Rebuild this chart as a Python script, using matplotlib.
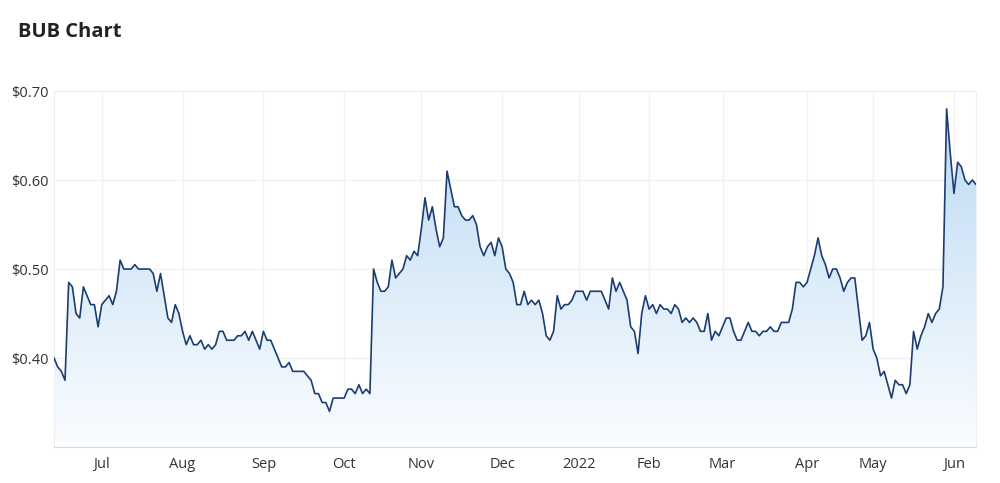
import numpy as np
import pandas as pd
import matplotlib
matplotlib.use("Agg")
import matplotlib.pyplot as plt
from matplotlib.colors import LinearSegmentedColormap
from matplotlib.ticker import FuncFormatter

plt.rcParams['font.family'] = ['Open Sans', 'DejaVu Sans']

# ASX trading days, 11 Jun 2021 - 9 Jun 2022
holidays = ['2021-06-14', '2021-12-27', '2021-12-28', '2022-01-03',
            '2022-01-26', '2022-04-15', '2022-04-18', '2022-04-25']
dates = pd.bdate_range('2021-06-11', '2022-06-09')
dates = dates[~dates.isin(pd.to_datetime(holidays))]

# closing prices (AUD), one list per month
jun21 = [0.40, 0.39, 0.385, 0.375, 0.485, 0.48, 0.45, 0.445, 0.48, 0.47, 0.46, 0.46, 0.435]
jul21 = [0.46, 0.465, 0.47, 0.46, 0.475, 0.51, 0.50, 0.50, 0.50, 0.505, 0.50, 0.50, 0.50, 0.50,
         0.495, 0.475, 0.495, 0.47, 0.445, 0.44, 0.46, 0.45]
aug21 = [0.43, 0.415, 0.425, 0.415, 0.415, 0.42, 0.41, 0.415, 0.41, 0.415, 0.43, 0.43,
         0.42, 0.42, 0.42, 0.425, 0.425, 0.43, 0.42, 0.43, 0.42, 0.41]
sep21 = [0.43, 0.42, 0.42, 0.41, 0.40, 0.39, 0.39, 0.395, 0.385, 0.385, 0.385, 0.385,
         0.38, 0.375, 0.36, 0.36, 0.35, 0.35, 0.34, 0.355, 0.355, 0.355]
oct21 = [0.355, 0.365, 0.365, 0.36, 0.37, 0.36, 0.365, 0.36, 0.50, 0.485, 0.475, 0.475,
         0.48, 0.51, 0.49, 0.495, 0.50, 0.515, 0.51, 0.52, 0.515]
nov21 = [0.545, 0.58, 0.555, 0.57, 0.545, 0.525, 0.535, 0.61, 0.59, 0.57, 0.57, 0.56,
         0.555, 0.555, 0.56, 0.55, 0.525, 0.515, 0.525, 0.53, 0.515, 0.535]
dec21 = [0.525, 0.50, 0.495, 0.485, 0.46, 0.46, 0.475, 0.46, 0.465, 0.46, 0.465, 0.45,
         0.425, 0.42, 0.43, 0.47, 0.455, 0.46, 0.46, 0.465, 0.475]
jan22 = [0.475, 0.475, 0.465, 0.475, 0.475, 0.475, 0.475, 0.465, 0.455, 0.49, 0.475,
         0.485, 0.475, 0.465, 0.435, 0.43, 0.405, 0.45, 0.47]
feb22 = [0.455, 0.46, 0.45, 0.46, 0.455, 0.455, 0.45, 0.46, 0.455, 0.44, 0.445, 0.44,
         0.445, 0.44, 0.43, 0.43, 0.45, 0.42, 0.43, 0.425]
mar22 = [0.435, 0.445, 0.445, 0.43, 0.42, 0.42, 0.43, 0.44, 0.43, 0.43, 0.425, 0.43,
         0.43, 0.435, 0.43, 0.43, 0.44, 0.44, 0.44, 0.455, 0.485, 0.485, 0.48]
apr22 = [0.485, 0.50, 0.515, 0.535, 0.515, 0.505, 0.49, 0.50, 0.50, 0.49, 0.475, 0.485,
         0.49, 0.49, 0.455, 0.42, 0.425, 0.44]
may22 = [0.41, 0.40, 0.38, 0.385, 0.37, 0.355, 0.375, 0.37, 0.37, 0.36, 0.37, 0.43,
         0.41, 0.425, 0.435, 0.45, 0.44, 0.45, 0.455, 0.48, 0.68, 0.63]
jun22 = [0.585, 0.62, 0.615, 0.60, 0.595, 0.60, 0.595]

prices = np.array(jun21 + jul21 + aug21 + sep21 + oct21 + nov21 + dec21
                  + jan22 + feb22 + mar22 + apr22 + may22 + jun22)
n = min(len(prices), len(dates))
prices = prices[:n]
dates = dates[:n]
x = np.arange(n)

# month ticks at first trading day of each month
month_labels = ['Jul', 'Aug', 'Sep', 'Oct', 'Nov', 'Dec', '2022',
                'Feb', 'Mar', 'Apr', 'May', 'Jun']
periods = dates.to_period('M')
first_idx = [i for i in range(1, n) if periods[i] != periods[i - 1]]

fig = plt.figure(figsize=(10, 4.83), dpi=100)
ax = fig.add_axes([0.054, 0.0745, 0.922, 0.737])

ymin, ymax = 0.30, 0.70
ax.set_xlim(0, n - 1)
ax.set_ylim(ymin, ymax)

# gradient fill under the line
cmap = LinearSegmentedColormap.from_list('fill', ['#fbfdff', '#b8d8f2'])
grad = np.linspace(0, 1, 256).reshape(-1, 1)
im = ax.imshow(grad, extent=[0, n - 1, ymin, ymax], origin='lower',
               aspect='auto', cmap=cmap, zorder=1)
poly = ax.fill_between(x, prices, ymin, color='none', lw=0)
im.set_clip_path(poly.get_paths()[0], transform=ax.transData)

ax.plot(x, prices, color='#1c3d72', lw=1.2, zorder=3)

ax.set_yticks([0.40, 0.50, 0.60, 0.70])
ax.yaxis.set_major_formatter(FuncFormatter(lambda v, p: f'${v:.2f}'))
ax.set_xticks(first_idx[:len(month_labels)])
ax.set_xticklabels(month_labels[:len(first_idx)])

ax.grid(True, color='#f2f2f2', lw=1, zorder=0)
ax.set_axisbelow(True)
ax.tick_params(axis='both', length=0, labelsize=10.5, colors='#333333')
ax.tick_params(axis='x', pad=7)
ax.tick_params(axis='y', pad=4)
for side in ['top', 'right', 'left']:
    ax.spines[side].set_color('#eeeeee')
ax.spines['bottom'].set_color('#d8d8d8')

fig.text(0.018, 0.933, 'BUB Chart', fontsize=14.5, fontweight='bold',
         color='#222222', va='center', ha='left')

fig.savefig('out.png', dpi=100)
